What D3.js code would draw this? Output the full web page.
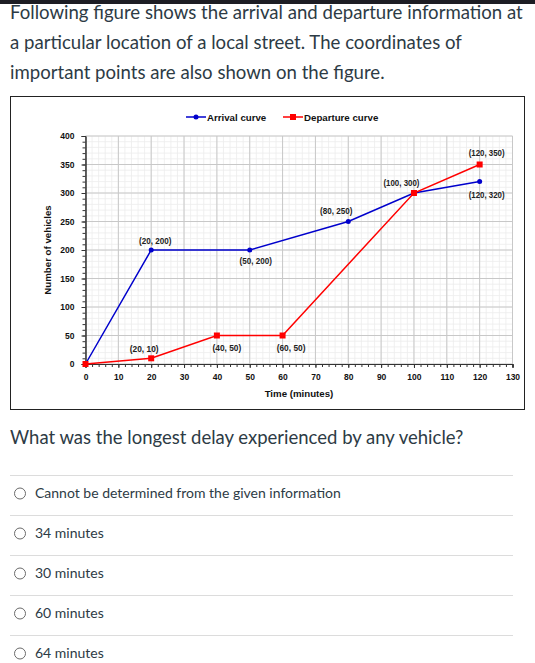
<!DOCTYPE html>
<html>
<head>
<meta charset="utf-8">
<script src="https://cdn.jsdelivr.net/npm/d3@7"></script>
<style>
  body { margin: 0; background: #fff; }
  svg { display: block; }
</style>
</head>
<body>
<svg id="page" width="535" height="663"></svg>
<script>
// question text
const introLines = [
  "Following figure shows the arrival and departure information at",
  "a particular location of a local street. The coordinates of",
  "important points are also shown on the figure."
];
const question = "What was the longest delay experienced by any vehicle?";
const options = [
  "Cannot be determined from the given information",
  "34 minutes",
  "30 minutes",
  "60 minutes",
  "64 minutes"
];

// chart data
const arrivalTime = [0, 20, 50, 80, 100, 120];
const arrivalCount = [0, 200, 200, 250, 300, 320];
const departureTime = [0, 20, 40, 60, 100, 120];
const departureCount = [0, 10, 50, 50, 300, 350];
const xTicks = [0, 10, 20, 30, 40, 50, 60, 70, 80, 90, 100, 110, 120, 130];
const yTicks = [0, 50, 100, 150, 200, 250, 300, 350, 400];

// label placement for the "(x, y)" annotations, [dx, dy] in px, null = no label
const arrivalLabelAt = [null, [4, -6.5], [6, 13.5], [-12, -7.5], [-12.5, -7.5], [7, 16]];
const departureLabelAt = [null, [-7, -6], [10, 15.5], [8.5, 15.5], null, [7, -8.5]];

const svg = d3.select("#page");
const textColor = "#2d3b45";

// top bar
svg.append("rect").attr("x", 0).attr("y", 0).attr("width", 535).attr("height", 4).attr("fill", "#1d1d24");

svg.selectAll("text.intro")
  .data(introLines)
  .enter()
  .append("text")
  .attr("class", "intro")
  .attr("x", 10)
  .attr("y", (d, i) => 19 + i * 30)
  .attr("font-family", "Lato")
  .attr("font-size", "18.6px")
  .attr("fill", textColor)
  .text(d => d);

// chart frame
svg.append("rect")
  .attr("x", 10.5).attr("y", 96.5)
  .attr("width", 514).attr("height", 313)
  .attr("fill", "#fff").attr("stroke", "#222").attr("stroke-width", 1);

const x = d3.scaleLinear().domain([0, 130]).range([85.5, 512.5]);
const y = d3.scaleLinear().domain([0, 400]).range([364, 136]);

const chart = svg.append("g");

// minor grid
chart.selectAll("line.vminor")
  .data(d3.range(0, 131, 2))
  .enter().append("line")
  .attr("x1", d => x(d)).attr("x2", d => x(d))
  .attr("y1", y(0)).attr("y2", y(400))
  .attr("stroke", "#ececec").attr("stroke-width", 0.8);
chart.selectAll("line.hminor")
  .data(d3.range(0, 401, 10))
  .enter().append("line")
  .attr("x1", x(0)).attr("x2", x(130))
  .attr("y1", d => y(d)).attr("y2", d => y(d))
  .attr("stroke", "#ececec").attr("stroke-width", 0.8);

// major grid
chart.selectAll("line.vmajor")
  .data(xTicks)
  .enter().append("line")
  .attr("x1", d => x(d)).attr("x2", d => x(d))
  .attr("y1", y(0)).attr("y2", y(400))
  .attr("stroke", "#c8c8c8").attr("stroke-width", 1);
chart.selectAll("line.hmajor")
  .data(yTicks)
  .enter().append("line")
  .attr("x1", x(0)).attr("x2", x(130))
  .attr("y1", d => y(d)).attr("y2", d => y(d))
  .attr("stroke", "#c8c8c8").attr("stroke-width", 1);

// axes
const xAxis = chart.append("g")
  .attr("transform", `translate(0,${y(0)})`)
  .call(d3.axisBottom(x).tickValues(d3.range(0, 131, 2)).tickSize(3).tickFormat(""));
const xLabels = chart.append("g")
  .attr("transform", `translate(0,${y(0)})`)
  .call(d3.axisBottom(x).tickValues(xTicks).tickSize(4).tickPadding(6));
const yAxis = chart.append("g")
  .attr("transform", `translate(${x(0)},0)`)
  .call(d3.axisLeft(y).tickValues(d3.range(0, 401, 10)).tickSize(3).tickFormat(""));
const yLabels = chart.append("g")
  .attr("transform", `translate(${x(0)},0)`)
  .call(d3.axisLeft(y).tickValues(yTicks).tickSize(4).tickPadding(7));

[xAxis, xLabels, yAxis, yLabels].forEach(g => {
  g.select(".domain").attr("stroke", "#333");
  g.selectAll(".tick line").attr("stroke", "#333");
  g.selectAll("text")
    .attr("font-family", "Liberation Sans, Arial")
    .attr("font-weight", "bold")
    .attr("font-size", "8.5px")
    .attr("fill", "#111");
});

// axis titles
chart.append("text")
  .attr("x", x(65)).attr("y", 397)
  .attr("text-anchor", "middle")
  .attr("font-family", "Liberation Sans, Arial")
  .attr("font-weight", "bold").attr("font-size", "9.7px")
  .attr("fill", "#111")
  .text("Time (minutes)");
chart.append("text")
  .attr("transform", `translate(51,${y(200)}) rotate(-90)`)
  .attr("text-anchor", "middle")
  .attr("font-family", "Liberation Sans, Arial")
  .attr("font-weight", "bold").attr("font-size", "9.7px")
  .attr("fill", "#111")
  .text("Number of vehicles");

// curves
const arrival = arrivalTime.map((t, i) => ({ t: t, n: arrivalCount[i], at: arrivalLabelAt[i] }));
const departure = departureTime.map((t, i) => ({ t: t, n: departureCount[i], at: departureLabelAt[i] }));

const line = d3.line().x(d => x(d.t)).y(d => y(d.n));

chart.append("path").datum(arrival)
  .attr("d", line).attr("fill", "none")
  .attr("stroke", "#0000cc").attr("stroke-width", 1.5);
chart.selectAll("circle.arr")
  .data(arrival).enter().append("circle")
  .attr("cx", d => x(d.t)).attr("cy", d => y(d.n)).attr("r", 2.5)
  .attr("fill", "#0000cc");

chart.append("path").datum(departure)
  .attr("d", line).attr("fill", "none")
  .attr("stroke", "#ff0000").attr("stroke-width", 1.5);
chart.selectAll("rect.dep")
  .data(departure).enter().append("rect")
  .attr("x", d => x(d.t) - 3).attr("y", d => y(d.n) - 3)
  .attr("width", 6).attr("height", 6)
  .attr("fill", "#ff0000");

// point labels
const pts = chart.selectAll("text.pt")
  .data(arrival.concat(departure).filter(d => d.at))
  .enter().append("text")
  .attr("x", d => x(d.t) + d.at[0])
  .attr("y", d => y(d.n) + d.at[1])
  .attr("text-anchor", "middle")
  .attr("font-family", "Liberation Sans Narrow, Liberation Sans, Arial")
  .attr("font-weight", "bold").attr("font-size", "9.5px")
  .attr("fill", "#222")
  .text(d => `(${d.t}, ${d.n})`);
// squeeze labels if the narrow face is missing
pts.each(function(d) {
  const w = this.getComputedTextLength();
  const target = 3.6 * String(`(${d.t}, ${d.n})`).length;
  if (w > target * 1.08) d3.select(this).attr("textLength", target).attr("lengthAdjust", "spacingAndGlyphs");
});

// legend
const legend = [
  { name: "Arrival curve", color: "#0000cc", shape: "circle", x0: 186 },
  { name: "Departure curve", color: "#ff0000", shape: "square", x0: 283 }
];
const lg = chart.selectAll("g.lg").data(legend).enter().append("g")
  .attr("transform", d => `translate(${d.x0},117)`);
lg.append("line").attr("x1", 0).attr("x2", 20).attr("y1", 0).attr("y2", 0)
  .attr("stroke", d => d.color).attr("stroke-width", 1.5);
lg.filter(d => d.shape === "circle").append("circle")
  .attr("cx", 10).attr("cy", 0).attr("r", 2.5).attr("fill", d => d.color);
lg.filter(d => d.shape === "square").append("rect")
  .attr("x", 7).attr("y", -3).attr("width", 6).attr("height", 6).attr("fill", d => d.color);
lg.append("text").attr("x", 21).attr("y", 3.5)
  .attr("font-family", "Liberation Sans, Arial")
  .attr("font-weight", "bold").attr("font-size", "9.7px")
  .attr("fill", "#111")
  .text(d => d.name);

// question
svg.append("text")
  .attr("x", 10).attr("y", 444)
  .attr("font-family", "Lato").attr("font-size", "18.5px")
  .attr("fill", textColor)
  .text(question);

const opt = svg.selectAll("g.opt").data(options).enter().append("g")
  .attr("transform", (d, i) => `translate(0,${475 + i * 40})`);
opt.append("line").attr("x1", 10).attr("x2", 513).attr("y1", 0.5).attr("y2", 0.5)
  .attr("stroke", "#dcdcdc").attr("stroke-width", 1);
opt.append("circle").attr("cx", 20).attr("cy", 18.5).attr("r", 5.5)
  .attr("fill", "#fff").attr("stroke", "#6b6b6b").attr("stroke-width", 1);
opt.append("text").attr("x", 35).attr("y", 23)
  .attr("font-family", "Lato").attr("font-size", "14px")
  .attr("fill", textColor)
  .text(d => d);
</script>
</body>
</html>
